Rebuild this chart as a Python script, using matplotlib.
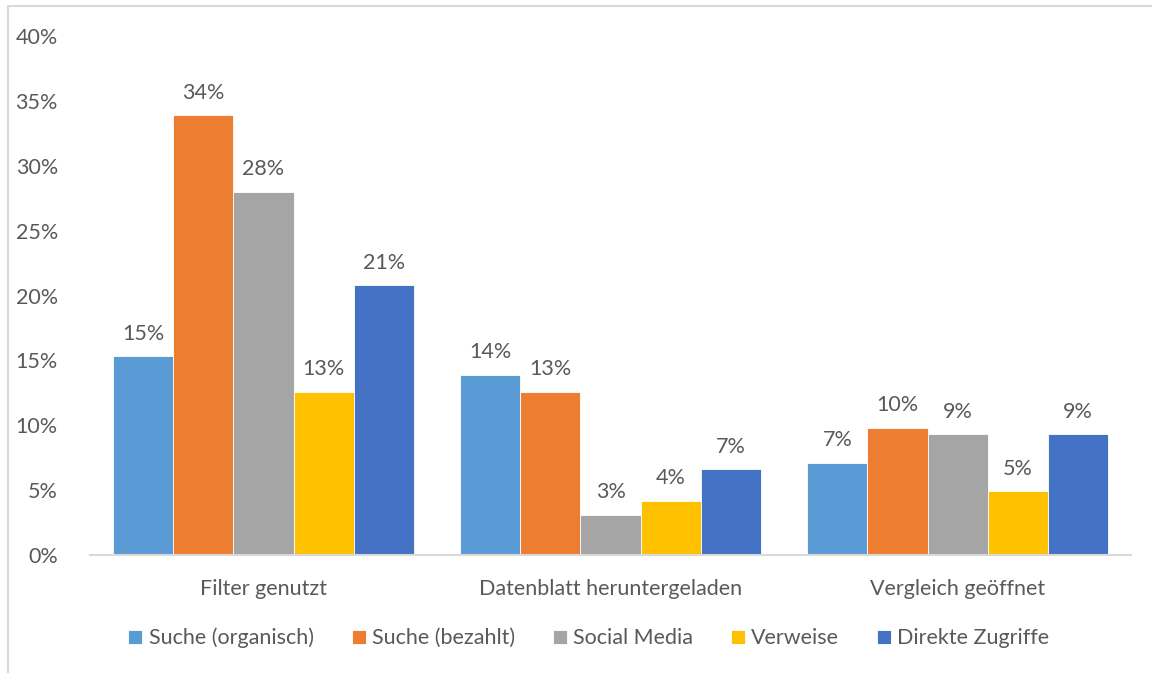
import numpy as np
import matplotlib.pyplot as plt
from matplotlib.patches import Rectangle

plt.rcParams['font.family'] = ['Lato', 'DejaVu Sans']

# Data
categories = ['Filter genutzt', 'Datenblatt heruntergeladen', 'Vergleich geöffnet']
series = ['Suche (organisch)', 'Suche (bezahlt)', 'Social Media', 'Verweise', 'Direkte Zugriffe']
colors = ['#5b9bd5', '#ed7d31', '#a5a5a5', '#ffc000', '#4472c4']
values = [
    [15.3, 13.9, 7.1],   # Suche (organisch)
    [33.9, 12.6, 9.8],   # Suche (bezahlt)
    [28.0, 3.1, 9.3],    # Social Media
    [12.6, 4.2, 4.9],    # Verweise
    [20.8, 6.6, 9.3],    # Direkte Zugriffe
]

text_color = '#595959'
fs = 15.5

fig = plt.figure(figsize=(11.52, 6.73), dpi=100)
ax = fig.add_axes([0.078, 0.1753, 0.904, 0.7712])

# light frame round the chart area
fig.patches.append(Rectangle((8 / 1152, -0.1), 1.2, 1 - 6 / 673 + 0.1,
                             transform=fig.transFigure, fill=False,
                             edgecolor='#d9d9d9', linewidth=1.5))

x = np.arange(len(categories))
bar_w = 0.1733
for i, (name, vals, col) in enumerate(zip(series, values, colors)):
    pos = x + (i - 2) * bar_w
    bars = ax.bar(pos, vals, width=bar_w, color=col, edgecolor='white',
                  linewidth=0.6, label=name)
    for b, v in zip(bars, vals):
        ax.annotate(f'{v:.0f}%', (b.get_x() + b.get_width() / 2, v),
                    xytext=(0, 9), textcoords='offset points',
                    ha='center', va='bottom', fontsize=fs, color=text_color)

ax.set_xlim(-0.5, 2.5)
ax.set_ylim(0, 40)
ax.set_yticks(np.arange(0, 41, 5))
ax.set_yticklabels([f'{t}%' for t in range(0, 41, 5)])
ax.set_xticks(x)
ax.set_xticklabels(categories)
ax.tick_params(axis='both', length=0, labelsize=fs, labelcolor=text_color)
ax.tick_params(axis='y', pad=23)
ax.tick_params(axis='x', pad=17)

for side in ['top', 'right', 'left']:
    ax.spines[side].set_visible(False)
ax.spines['bottom'].set_color('#d9d9d9')
ax.spines['bottom'].set_linewidth(1.5)

fig.legend(loc='center', bbox_to_anchor=(589 / 1152, 1 - 638 / 673), ncol=5,
           frameon=False, fontsize=fs, labelcolor=text_color,
           handlelength=0.65, handleheight=0.65, handletextpad=0.3,
           columnspacing=1.75)

fig.savefig('out.png', dpi=100)
